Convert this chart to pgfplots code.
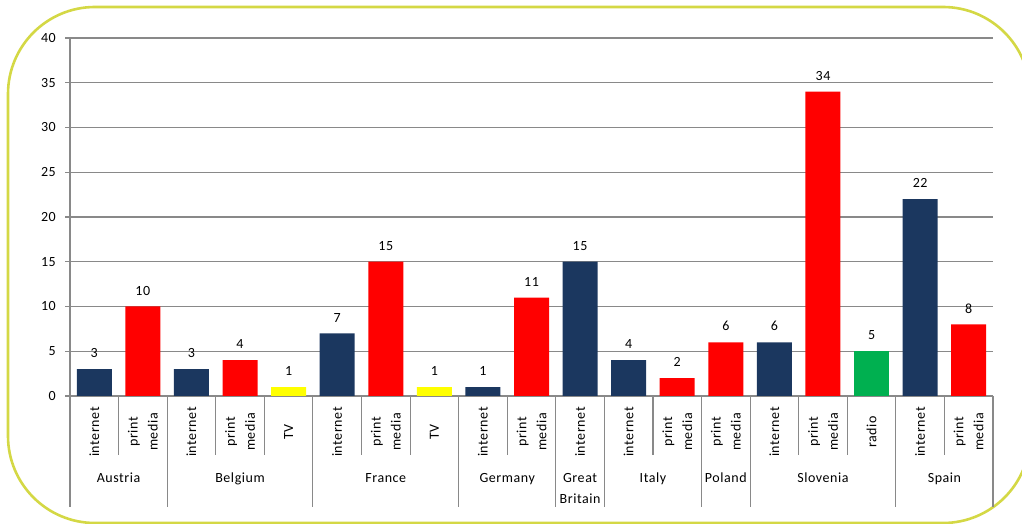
\documentclass[border=0pt]{standalone}
\usepackage{pgfplots}
\pgfplotsset{compat=1.18}
\usepackage{fontspec}
\setmainfont[LetterSpace=4]{Carlito}
\definecolor{navy}{HTML}{1B375F}
\definecolor{redbar}{HTML}{FF0000}
\definecolor{yel}{HTML}{FFFF00}
\definecolor{grn}{HTML}{00B050}
\definecolor{gridc}{HTML}{898989}
\definecolor{framec}{HTML}{D4D845}
\begin{document}
\begin{tikzpicture}[font=\fontsize{14pt}{20pt}\selectfont]
\useasboundingbox (0,0) rectangle (1022pt,524pt);
\clip (0,0) rectangle (1022pt,524pt);
\draw[framec, line width=2.6pt, rounded corners=87pt] (8pt,1pt) rectangle (1030pt,517pt);
\begin{axis}[
  at={(70pt,128pt)}, anchor=south west,
  scale only axis, width=923pt, height=358pt,
  xmin=-0.5, xmax=18.5, ymin=0, ymax=40,
  ytick={0,5,...,40}, xtick=\empty,
  axis y line*=left, axis x line*=bottom,
  axis line style={gridc, line width=1.1pt},
  ymajorgrids, grid style={gridc, line width=1.1pt},
  ytick align=outside, major tick length=5pt,
  ytick style={gridc, line width=1.1pt},
  yticklabel style={anchor=east, inner sep=0pt, font=\fontsize{14pt}{16pt}\selectfont},
  yticklabel shift=9pt,
  /pgf/number format/assume math mode=true,
  clip=false,
  nodes near coords,
  every node near coord/.style={anchor=south, inner sep=0pt, yshift=11pt, black, font=\fontsize{14pt}{16pt}\selectfont},
]
\addplot[ybar, bar width=35pt, bar shift=0pt, fill=navy, draw=none] coordinates {(0,3) (2,3) (5,7) (8,1) (10,15) (11,4) (14,6) (17,22)};
\addplot[ybar, bar width=35pt, bar shift=0pt, fill=redbar, draw=none] coordinates {(1,10) (3,4) (6,15) (9,11) (12,2) (13,6) (15,34) (18,8)};
\addplot[ybar, bar width=35pt, bar shift=0pt, fill=yel, draw=none] coordinates {(4,1) (7,1)};
\addplot[ybar, bar width=35pt, bar shift=0pt, fill=grn, draw=none] coordinates {(16,5)};
\pgfplotsinvokeforeach{-0.5,1.5,4.5,7.5,9.5,10.5,12.5,13.5,16.5,18.5}{
  \draw[gridc, line width=1.1pt] (axis cs:#1,0) -- ([yshift=-111pt]axis cs:#1,0);
}
\pgfplotsinvokeforeach{0.5,2.5,3.5,5.5,6.5,8.5,11.5,14.5,15.5,17.5}{
  \draw[gridc, line width=1.1pt] (axis cs:#1,0) -- ([yshift=-59pt]axis cs:#1,0);
}
\pgfplotsinvokeforeach{0,2,5,8,10,11,14,17}{
  \node[rotate=90, inner sep=0pt] at ([yshift=-36pt]axis cs:#1,0) {internet};
}
\pgfplotsinvokeforeach{1,3,6,9,12,13,15,18}{
  \node[rotate=90, inner sep=0pt, align=center] at ([yshift=-36pt]axis cs:#1,0) {print\\media};
}
\pgfplotsinvokeforeach{4,7}{
  \node[rotate=90, inner sep=0pt] at ([yshift=-36pt]axis cs:#1,0) {TV};
}
\node[rotate=90, inner sep=0pt] at ([yshift=-36pt]axis cs:16,0) {radio};
\node[anchor=base, inner sep=0pt] at ([yshift=-87pt]axis cs:0.5,0) {Austria};
\node[anchor=base, inner sep=0pt] at ([yshift=-87pt]axis cs:3,0) {Belgium};
\node[anchor=base, inner sep=0pt] at ([yshift=-87pt]axis cs:6,0) {France};
\node[anchor=base, inner sep=0pt] at ([yshift=-87pt]axis cs:8.5,0) {Germany};
\node[anchor=base, inner sep=0pt] at ([yshift=-87pt]axis cs:10,0) {Great};
\node[anchor=base, inner sep=0pt] at ([yshift=-107pt]axis cs:10,0) {Britain};
\node[anchor=base, inner sep=0pt] at ([yshift=-87pt]axis cs:11.5,0) {Italy};
\node[anchor=base, inner sep=0pt] at ([yshift=-87pt]axis cs:13,0) {Poland};
\node[anchor=base, inner sep=0pt] at ([yshift=-87pt]axis cs:15,0) {Slovenia};
\node[anchor=base, inner sep=0pt] at ([yshift=-87pt]axis cs:17.5,0) {Spain};
\end{axis}
\end{tikzpicture}
\end{document}
